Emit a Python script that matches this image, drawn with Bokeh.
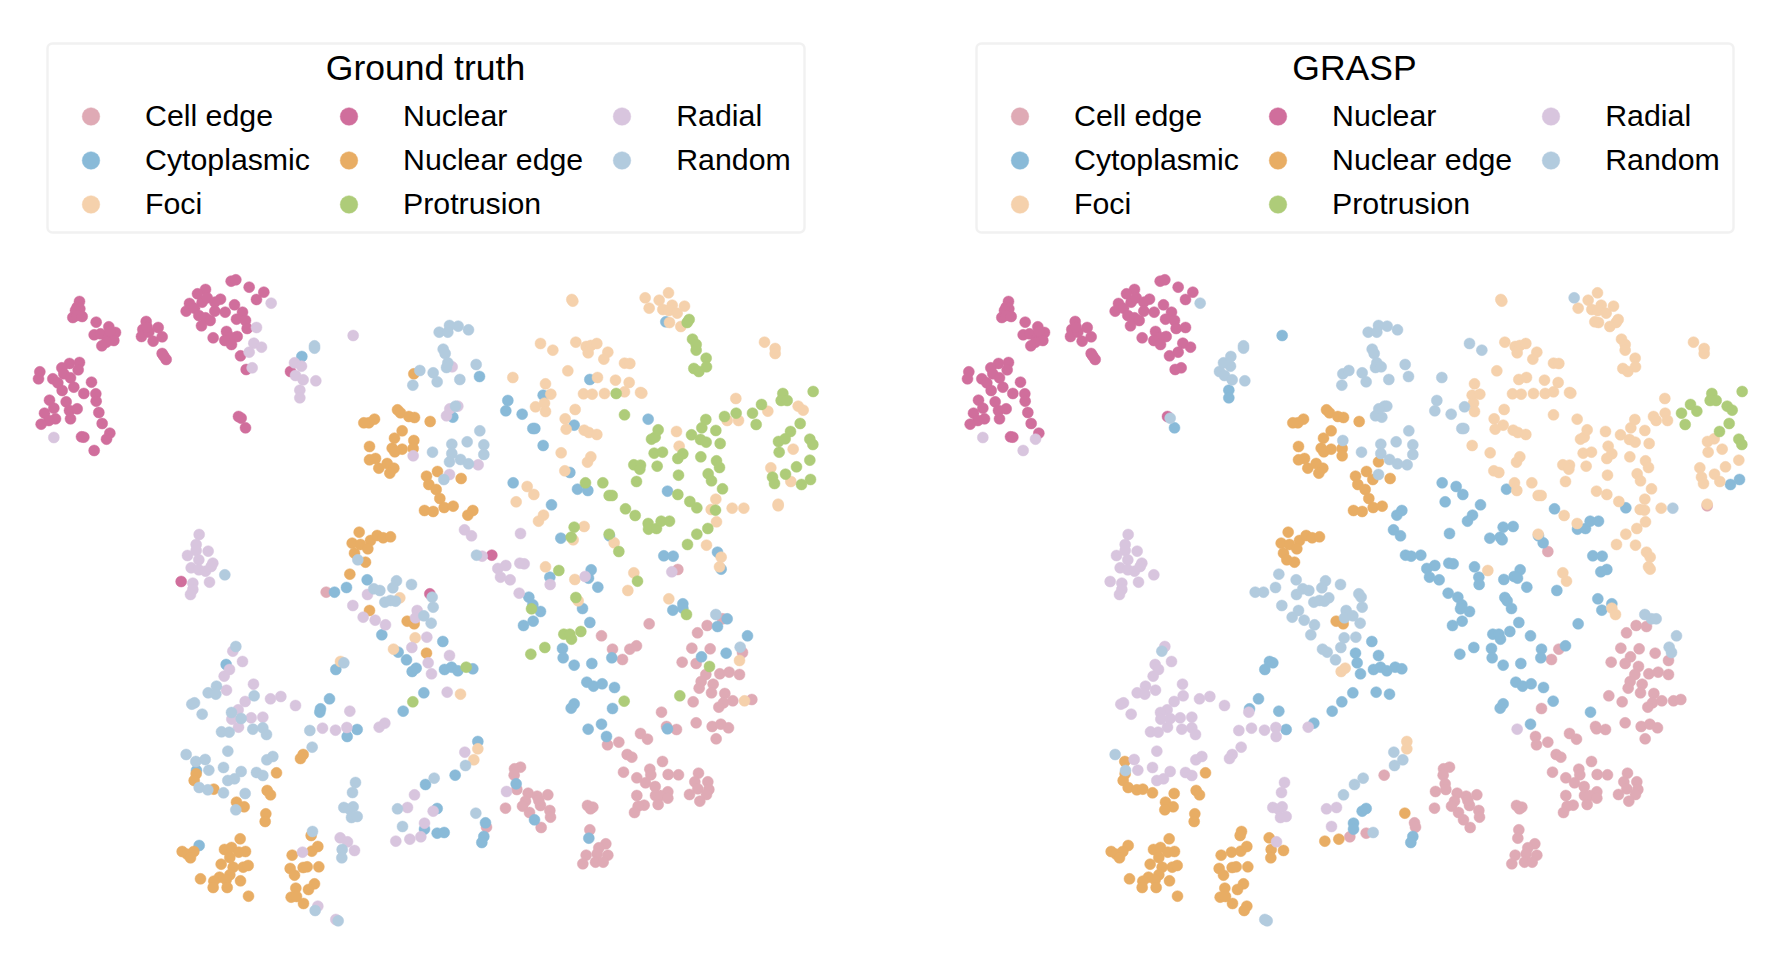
from bokeh.embed import file_html
from bokeh.resources import INLINE
from bokeh.plotting import figure
from bokeh.layouts import row
from bokeh.models import Legend, LegendItem, Range1d, BoxAnnotation, Label

CLASSES = ["Cell edge", "Cytoplasmic", "Foci", "Nuclear", "Nuclear edge", "Protrusion", "Radial", "Random"]
KEYS = ["CE", "CY", "FO", "NU", "NE", "PR", "RA", "RN"]
COLORS = ["#DFAAB5", "#89BAD8", "#F5D1AC", "#D06E9C", "#E8AD64", "#AECC79", "#D8C5DE", "#B2CBDE"]
TITLES = ["Ground truth", "GRASP"]

# Embedding coordinates, in thirds of a unit, per neighbourhood: (x, y, ground truth class, GRASP class)
origin_nw = (20, 260)
points_nw = [
(177,123,"NU","NU"),(170,140,"NU","NU"),(178,145,"NU","NU"),(165,150,"NU","NU"),(157,171,"NU","NU"),(170,165,"NU","NU"),(185,168,"NU","NU"),
(227,185,"NU","NU"),(221,223,"NU","NU"),(240,220,"NU","NU"),(265,199,"NU","NU"),(285,216,"NU","NU"),(270,222,"NU","NU"),(262,232,"NU","NU"),(280,240,"NU","NU"),(258,245,"NU","NU"),(244,256,"NU","NU"),(268,212,"NU","NU"),
(377,183,"NU","NU"),(367,207,"NU","NU"),(363,228,"NU","NU"),(385,215,"NU","NU"),(413,201,"NU","NU"),(425,229,"NU","NU"),(398,242,"NU","NU"),(380,200,"NU","NU"),(425,279,"NU","NU"),(437,297,"NU","NU"),(430,287,"NU","NU"),
(632,62,"NU","NU"),(646,58,"NU","NU"),(686,80,"NU","NU"),(730,95,"NU","NU"),(708,117,"NU","NU"),(752,128,"RA","RN"),
(555,87,"NU","NU"),(531,100,"NU","NU"),(545,125,"NU","NU"),(560,112,"NU","NU"),(600,116,"NU","NU"),(583,125,"NU","NU"),(507,129,"NU","NU"),(497,152,"NU","NU"),(522,143,"NU","NU"),(535,165,"NU","NU"),(555,172,"NU","NU"),(569,180,"NU","NU"),(543,196,"NU","NU"),(583,152,"NU","NU"),(614,155,"NU","NU"),(642,133,"NU","NU"),(666,155,"NU","NU"),(648,176,"NU","NU"),(675,180,"NU","NU"),(680,204,"NU","NU"),(708,201,"RA","NU"),
(578,232,"NU","NU"),(618,213,"NU","NU"),(650,228,"NU","NU"),(630,230,"NU","NU"),(613,240,"NU","NU"),(633,252,"NU","NU"),
(700,248,"RA","NU"),(723,260,"RA","NU"),(686,275,"RA","NU"),(660,286,"NU","NU"),(695,322,"RA","NU"),(677,327,"NU","NU"),
(177,306,"NU","NU"),(147,309,"NU","NU"),(124,322,"NU","NU"),(173,328,"NU","NU"),(58,334,"NU","NU"),(54,355,"NU","NU"),(130,340,"NU","NU"),(150,352,"NU","NU"),(97,355,"NU","NU"),(112,367,"NU","NU"),(160,380,"NU","NU"),(125,390,"NU","NU"),(213,365,"NU","NU"),(190,399,"NU","NU"),(226,400,"NU","NU"),(227,422,"NU","NU"),(87,419,"NU","NU"),(137,424,"NU","NU"),(100,443,"NU","NU"),(147,450,"NU","NU"),(170,445,"NU","NU"),(72,458,"NU","NU"),(105,475,"NU","NU"),(85,480,"NU","NU"),(150,475,"NU","NU"),(235,456,"NU","NU"),(245,489,"NU","NU"),(62,491,"NU","NU"),
(100,531,"RA","RA"),(183,529,"NU","NU"),(190,530,"NU","NU"),(268,518,"NU","NU"),(258,536,"NU","RA"),(221,570,"NU","RA"),
(654,468,"NU","NU"),(662,473,"NU","RN"),(675,502,"NU","CY"),
(810,333,"NU","RN"),(822,307,"RA","RN"),(843,317,"RA","RN"),(825,345,"RA","RN"),(848,358,"RA","RN"),(886,361,"RA","RN"),(838,389,"RA","CY"),(838,412,"RA","CY"),(844,288,"CY","RN"),(882,256,"RN","RN"),(882,263,"RN","RN"),(998,225,"RA","CY"),
(1180,340,"NE","RN"),(1198,330,"RN","RN"),(1177,374,"RN","RN"),
(1131,448,"NE","NE"),(1140,457,"NE","NE"),(1165,468,"NE","NE"),(1182,471,"NE","NE"),(1062,476,"NE","NE"),(1045,487,"NE","NE"),(1030,487,"NE","NE"),(1145,511,"NE","NE"),(1122,533,"NE","NE"),(1047,558,"NE","NE"),(1180,540,"NE","RN"),(1115,563,"NE","NE"),(1123,574,"NE","NE"),(1145,566,"NE","NE"),(1178,564,"NE","NE"),(1178,586,"RA","NE"),(1047,598,"NE","NE"),(1065,594,"NE","NE"),(1075,623,"NE","NE"),(1100,609,"NE","NE"),(1120,623,"NE","NE"),(1108,638,"NE","NE"),
(536,822,"RA","RA"),(1016,815,"NE","NE"),(1050,840,"NE","NE"),(1070,825,"NE","NE"),(1088,832,"NE","NE"),(1110,829,"NE","NE"),
]

origin_ne = (420, 260)
points_ne = [
(56,215,"RN","RN"),(87,195,"RN","RN"),(82,215,"RN","RN"),(113,197,"RN","RN"),(144,208,"RN","RN"),(68,266,"RN","RN"),(74,279,"RN","RN"),(82,307,"RN","RN"),(78,321,"RN","RN"),(95,319,"RA","RN"),(167,312,"RN","RN"),(177,348,"CY","RN"),(38,337,"RN","RN"),(50,364,"RN","RN"),(118,357,"RN","RN"),
(105,437,"RN","RN"),(112,437,"RA","RN"),(88,445,"RA","RN"),(78,466,"RA","RN"),(97,470,"CY","RN"),(29,483,"NE","NE"),
(178,511,"RN","RN"),(140,544,"RN","RN"),(94,551,"RN","RN"),(190,553,"RN","RN"),(36,575,"RN","RN"),(94,579,"RN","RN"),(190,582,"RN","RN"),(87,604,"RN","NE"),(120,597,"RN","RN"),(144,610,"RN","RN"),(173,613,"RA","RN"),(87,642,"RA","RN"),(70,657,"RN","NE"),
(454,117,"FO","FO"),(457,122,"FO","FO"),(674,112,"FO","RN"),(716,119,"FO","FO"),(744,97,"FO","FO"),(686,143,"FO","FO"),(755,134,"FO","FO"),(792,137,"FO","FO"),(727,147,"FO","FO"),(745,150,"FO","FO"),(770,158,"FO","FO"),(747,186,"FO","FO"),(736,184,"CY","FO"),(781,198,"FO","FO"),
(800,186,"PR","FO"),(806,177,"PR","FO"),(816,236,"PR","FO"),(827,252,"PR","FO"),(827,269,"PR","FO"),(857,293,"PR","FO"),(858,319,"PR","FO"),(820,324,"PR","FO"),(835,333,"PR","FO"),
(360,249,"FO","RN"),(397,269,"FO","RN"),(466,245,"FO","FO"),(497,258,"FO","FO"),(511,255,"FO","FO"),(529,249,"FO","FO"),(503,277,"FO","FO"),(562,275,"FO","FO"),(550,296,"FO","FO"),(612,308,"FO","FO"),(628,309,"FO","FO"),(1032,245,"FO","FO"),(1064,264,"FO","FO"),(1064,279,"FO","FO"),
(442,331,"FO","FO"),(277,351,"FO","RN"),(375,370,"FO","FO"),(368,404,"CY","FO"),(391,401,"FO","FO"),(508,357,"CY","FO"),(531,351,"FO","FO"),(585,359,"FO","FO"),(626,366,"FO","FO"),
(489,400,"FO","FO"),(515,401,"FO","FO"),(552,399,"FO","FO"),(587,399,"PR","FO"),(612,394,"FO","FO"),(660,396,"FO","FO"),(664,398,"FO","FO"),
(262,420,"CY","RN"),(256,451,"CY","RN"),(305,461,"CY","RN"),(345,439,"FO","RN"),(372,428,"FO","FO"),(375,453,"FO","FO"),(464,447,"FO","FO"),(612,463,"PR","FO"),(683,476,"CY","FO"),(434,475,"FO","FO"),(437,506,"FO","FO"),(461,494,"CY","FO"),(337,504,"CY","RN"),(343,504,"CY","RN"),(491,509,"FO","FO"),(505,516,"FO","FO"),(529,522,"FO","FO"),(368,555,"CY","FO"),(422,577,"FO","FO"),(511,589,"FO","FO"),(501,605,"FO","FO"),(433,631,"FO","FO"),(448,636,"CY","FO"),
(278,667,"CY","CY"),(320,678,"FO","CY"),(340,702,"FO","CY"),(287,724,"FO","CY"),(393,733,"CY","CY"),(369,764,"FO","CY"),(354,782,"FO","CY"),(300,819,"RA","CY"),(132,808,"RA","CY"),(153,826,"RA","CY"),
(51,633,"NE","NE"),(18,647,"NE","NE"),(25,672,"NE","NE"),(47,687,"NE","NE"),(58,714,"NE","NE"),(71,741,"NE","NE"),(98,737,"NE","NE"),(122,654,"NE","NE"),(12,750,"NE","NE"),(38,753,"NE","NE"),(157,750,"NE","CY"),(142,764,"NE","CY"),
(495,667,"PR","FO"),(547,667,"PR","FO"),(648,663,"PR","FO"),(471,686,"CY","CY"),(502,690,"CY","FO"),(566,705,"PR","FO"),(575,705,"PR","FO"),(640,613,"PR","FO"),(660,614,"PR","FO"),(658,626,"PR","FO"),(710,617,"PR","FO"),(774,644,"PR","FO"),
(693,536,"PR","FO"),(704,530,"PR","FO"),(713,508,"PR","FO"),(768,513,"FO","FO"),(776,557,"FO","FO"),(701,578,"PR","FO"),(726,575,"PR","FO"),(772,594,"PR","FO"),(787,580,"PR","FO"),(813,523,"PR","FO"),(840,537,"PR","FO"),(857,545,"PR","FO"),(886,510,"PR","FO"),(899,549,"PR","FO"),(841,589,"PR","FO"),(844,502,"PR","FO"),(856,477,"PR","FO"),(912,468,"PR","FO"),(920,480,"FO","FO"),(947,458,"PR","FO"),(954,480,"FO","FO"),(946,414,"FO","FO"),
(996,458,"PR","PR"),(1023,432,"PR","PR"),(1007,492,"PR","PR"),(1042,452,"FO","PR"),(1087,399,"PR","PR"),(1082,420,"PR","PR"),(1100,420,"PR","PR"),(1178,393,"PR","PR"),(1133,437,"FO","PR"),(1148,449,"FO","PR"),(1139,489,"PR","PR"),(1110,513,"PR","PR"),(1074,543,"PR","FO"),(1094,535,"PR","FO"),(1168,536,"PR","PR"),(1177,552,"PR","PR"),(1076,575,"PR","FO"),(1118,566,"FO","FO"),(1168,599,"PR","FO"),(1128,619,"PR","FO"),(1051,622,"FO","FO"),(1095,641,"PR","FO"),(1056,650,"PR","FO"),(1062,669,"PR","FO"),(1111,663,"FO","FO"),(1143,672,"PR","CY"),(1170,657,"PR","CY"),(1073,731,"FO","FO"),(1073,736,"FO","CE"),
(888,601,"PR","FO"),(897,621,"PR","FO"),(863,640,"PR","FO"),(873,661,"PR","FO"),(906,685,"PR","FO"),(741,692,"CY","FO"),(772,702,"PR","FO"),(808,723,"PR","FO"),(829,742,"PR","CY"),(886,716,"FO","FO"),(872,747,"FO","FO"),(885,749,"PR","FO"),(935,743,"FO","FO"),(970,743,"FO","RN"),(888,784,"FO","FO"),(862,804,"PR","FO"),(829,821,"PR","FO"),
(615,745,"PR","CY"),(644,765,"PR","FO"),(683,789,"PR","FO"),(684,806,"PR","CY"),(708,804,"PR","CY"),(722,782,"PR","CY"),(747,782,"PR","CY"),
(461,800,"PR","CY"),(491,798,"FO","CY"),(452,830,"PR","CY"),(458,838,"FO","CY"),(421,833,"CY","CY"),(566,821,"PR","FO"),(567,826,"CY","CY"),
]

origin_sw = (150, 540)
points_sw = [
(137,12,"RA","RA"),(137,30,"RA","RA"),(111,45,"RA","RA"),(173,32,"RA","RA"),(145,58,"RA","RA"),(187,68,"RA","RA"),(122,82,"RA","RA"),(145,88,"RA","RA"),(165,92,"RA","RA"),(182,78,"RA","RA"),(92,123,"NU","RA"),(127,128,"RA","RA"),(177,125,"RA","RA"),(127,147,"RA","RA"),(120,162,"RA","RA"),(223,103,"RN","RA"),
(605,8,"NE","NE"),(630,12,"NE","NE"),(652,25,"NE","NE"),(612,38,"NE","NE"),(645,65,"NE","NE"),(622,58,"RN","NE"),(598,101,"NE","RN"),
(650,118,"CY","RN"),(588,141,"CY","RN"),(527,155,"CE","RN"),(552,155,"CY","RN"),(670,145,"RN","RN"),(688,150,"RN","RN"),(651,162,"RA","RN"),(738,121,"RN","RN"),(727,142,"RN","RN"),(783,132,"RN","RN"),(748,172,"FO","RN"),(703,185,"RN","RN"),(720,180,"RN","RN"),(735,182,"RN","RN"),(838,160,"NU","RN"),(845,170,"RN","RN"),(848,200,"RN","RN"),
(607,195,"RA","RN"),(657,210,"NE","RN"),(638,230,"RA","RN"),(674,239,"RA","RN"),(705,253,"RA","RN"),(694,283,"CY","RN"),(800,210,"RA","RN"),(795,232,"RA","RN"),(820,226,"RN","RN"),(770,242,"NE","NE"),(791,250,"NE","NE"),(842,248,"RN","RN"),
(794,292,"FO","RN"),(829,290,"RA","RN"),(877,303,"CY","CY"),(784,321,"RA","RN"),(729,326,"FO","RN"),(743,335,"CY","RN"),(768,358,"CY","RN"),(828,338,"NE","CY"),(897,345,"RA","CY"),(833,367,"RA","CY"),(843,400,"RA","CY"),(785,393,"CY","FO"),(797,383,"CY","FO"),(882,387,"CY","CY"),(903,380,"CY","CY"),(922,391,"CY","CY"),
(820,457,"CY","CY"),(890,455,"RA","CY"),(930,461,"FO","CY"),(787,484,"PR","CY"),(758,512,"CY","CY"),(703,548,"RA","CY"),(686,560,"RA","RA"),(620,567,"CY","CY"),(598,512,"RA","CY"),(589,561,"RA","RA"),(590,588,"CY","RA"),(555,569,"RA","RA"),(516,563,"RA","RA"),(478,570,"RN","RA"),(485,620,"RN","RA"),(458,642,"NE","RA"),(450,654,"NE","RA"),
(537,475,"CY","CY"),(510,505,"CY","CY"),(508,515,"CY","RA"),(570,363,"FO","CY"),(580,367,"RN","CY"),(556,387,"CY","CY"),
(247,332,"RA","RN"),(256,318,"RN","RA"),(276,363,"RA","RA"),(227,372,"CY","RA"),(237,387,"RA","RA"),(221,407,"RA","RA"),(198,437,"RN","RA"),(173,457,"RN","RA"),(196,461,"RN","RA"),(228,449,"RA","RA"),(309,431,"RA","RA"),(311,466,"RN","RA"),(284,483,"RA","RA"),(360,475,"RA","RA"),(391,468,"RA","RA"),(435,495,"RA","RA"),(124,491,"RN","RA"),(132,487,"RN","RA"),(155,521,"RN","RA"),(263,508,"RA","RA"),(243,516,"RN","RA"),(244,536,"RA","RA"),(272,534,"RN","RA"),(302,532,"RA","RA"),(337,530,"RA","RA"),(264,560,"RA","RA"),(213,574,"RN","RA"),(236,575,"RN","RA"),(307,566,"RN","RA"),(337,562,"RN","RA"),(348,582,"RN","RA"),
(107,642,"RN","RN"),(136,663,"RN","NE"),(164,657,"RN","RA"),(138,690,"CY","RN"),(137,700,"NE","NE"),(131,720,"NE","NE"),(175,689,"RN","RA"),(232,632,"RN","RA"),(219,681,"RN","RA"),(272,693,"RN","RA"),(232,720,"RN","RA"),(252,715,"RN","RA"),(349,658,"RN","RA"),(367,648,"RN","RA"),(318,696,"RN","RA"),(337,705,"RN","RA"),(378,697,"NE","NE"),
(146,741,"RN","NE"),(172,748,"RN","NE"),(190,746,"NE","NE"),(219,757,"RN","NE"),(284,759,"RN","NE"),(350,750,"NE","NE"),(360,763,"NE","NE"),(258,785,"NE","NE"),(281,799,"NE","NE"),(256,808,"RN","NE"),(346,820,"NE","NE"),(344,843,"NE","NE"),
(146,915,"CY","NE"),(95,933,"NE","NE"),(110,941,"NE","NE"),(130,933,"NE","NE"),(120,952,"NE","NE"),(269,895,"NE","NE"),(222,927,"NE","NE"),(243,921,"NE","NE"),(265,935,"NE","NE"),(285,933,"NE","NE"),(238,951,"NE","NE"),(212,971,"NE","NE"),(248,980,"NE","NE"),(278,980,"NE","NE"),(293,975,"NE","NE"),(238,1003,"NE","NE"),(207,1010,"NE","NE"),(190,1022,"NE","NE"),(227,1018,"NE","NE"),(270,1021,"NE","NE"),(188,1041,"NE","NE"),(230,1041,"NE","NE"),(150,1015,"NE","NE"),(294,1067,"NE","NE"),
(486,873,"RN","NE"),(482,885,"NE","NE"),(425,944,"NE","NE"),(456,935,"RA","NE"),(484,932,"NE","NE"),(502,918,"NE","NE"),(505,979,"NE","NE"),(458,981,"NE","NE"),(470,979,"NE","NE"),(419,984,"NE","NE"),(432,1004,"NE","NE"),(492,1030,"NE","NE"),(474,1047,"NE","NE"),(436,1043,"NE","NE"),(422,1070,"NE","NE"),(438,1068,"NE","NE"),(459,1089,"NE","NE"),(502,1097,"RA","NE"),(494,1110,"RN","NE"),(556,1137,"RA","RN"),(563,1141,"RN","RN"),
(569,892,"RA","NE"),(591,904,"RA","RA"),(612,930,"RA","NE"),(575,927,"RN","NE"),(574,952,"RN","NE"),(615,726,"RN","RA"),(606,756,"RN","RA"),(580,801,"RN","RA"),(597,806,"RN","RA"),(608,799,"RN","RA"),(603,831,"RN","RA"),(620,828,"RN","RA"),
(851,713,"RN","RN"),(825,732,"CY","RN"),(792,763,"RA","RN"),(741,805,"RN","RA"),(771,801,"RA","RA"),(848,812,"RA","CY"),(860,804,"CY","CY"),(756,858,"RN","RA"),(822,848,"RA","CY"),(822,866,"CY","CY"),(860,878,"CY","CE"),(881,876,"CY","RN"),(736,902,"RA","NE"),(778,896,"RA","NE"),(811,889,"RA","CE"),(914,704,"CY","CE"),
]

origin_se = (460, 540)
points_se = [
(48,44,"RN","CY"),(65,47,"RA","CY"),(94,44,"NU","CY"),(136,75,"RA","CY"),(112,84,"RA","CY"),(120,110,"RA","CY"),(149,118,"RA","CY"),(178,68,"RA","CY"),(191,70,"RA","CY"),(255,79,"FO","CY"),(295,90,"PR","FO"),(268,110,"CY","CY"),(269,132,"RA","CY"),
(392,88,"CY","CY"),(374,108,"RA","CY"),(384,113,"CY","CY"),(343,117,"FO","CY"),(412,140,"CY","CY"),(520,97,"FO","FO"),(531,122,"PR","FO"),(502,150,"FO","CY"),(610,46,"CY","CY"),(638,47,"CY","CY"),(652,87,"CE","CY"),(634,94,"RA","CY"),
(738,14,"FO","FO"),(681,12,"PR","FO"),(771,35,"CY","FO"),(782,50,"FO","FO"),(777,79,"FO","FO"),(782,86,"CY","FO"),(461,7,"FO","CY"),(475,33,"PR","CE"),
(176,158,"RA","CY"),(205,170,"CY","CY"),(217,193,"CY","CY"),(213,205,"PR","CY"),(240,213,"CY","CY"),(218,242,"CY","CY"),(189,255,"CY","CY"),(346,171,"PR","CY"),(353,181,"FO","CY"),(366,204,"CY","CY"),
(625,175,"FO","CY"),(667,190,"CY","CY"),(667,203,"CY","FO"),(637,209,"CY","CY"),(678,222,"PR","FO"),(566,250,"CE","CY"),(388,246,"CY","CY"),(310,281,"PR","CY"),(328,281,"PR","CY"),(361,273,"PR","CY"),(333,296,"PR","CY"),(423,286,"CE","CY"),
(253,321,"PR","CY"),(211,341,"PR","CY"),(306,324,"CY","CY"),(308,352,"CY","CY"),(341,374,"CY","CY"),(394,369,"CY","CY"),(456,326,"CE","CY"),(454,352,"CY","CY"),(508,326,"CE","CE"),(528,316,"CE","CY"),(486,357,"CE","CE"),(17,380,"PR","CY"),(37,385,"CY","CY"),
(379,425,"CY","CY"),(399,437,"CY","CY"),(425,430,"CY","CY"),(462,441,"CY","CY"),(491,482,"PR","CY"),(456,504,"CY","CE"),(341,490,"CY","CY"),(332,503,"CY","CY"),(423,551,"CY","CY"),(383,566,"CY","RA"),(438,588,"CY","CE"),(441,613,"CE","CE"),(475,605,"CE","CE"),
(540,579,"CE","CE"),(561,596,"CE","CE"),(603,515,"CE","CY"),(618,558,"CE","CE"),(621,565,"CY","CE"),(648,567,"CE","CE"),
(766,222,"RN","RN"),(786,235,"CE","RN"),(800,235,"CY","RN"),(771,258,"CY","CE"),(740,255,"CE","CE"),(711,277,"CE","CE"),(861,286,"CY","RN"),(839,320,"RN","RN"),(846,336,"CE","RN"),(797,338,"CY","CE"),(837,360,"FO","CE"),
(694,323,"CE","CE"),(749,325,"CE","CE"),(723,349,"CY","CE"),(665,365,"CE","CE"),(707,369,"CE","CE"),(747,378,"PR","CE"),(736,402,"CE","CE"),(778,400,"CE","CE"),(806,395,"CE","CE"),(837,402,"CE","CE"),(722,423,"CE","CE"),(716,443,"CE","CE"),(758,431,"CE","CE"),(753,457,"CE","CE"),(793,459,"CE","CE"),(658,466,"PR","CE"),(698,484,"CE","CE"),(789,487,"CE","CE"),(775,500,"CE","CE"),(817,481,"CE","CE"),(852,481,"FO","CE"),(874,477,"CE","CE"),(707,547,"CE","CE"),(755,558,"CE","CE"),(781,551,"CE","CE"),(804,562,"CE","CE"),(767,595,"CE","CE"),
(606,663,"CE","CE"),(500,642,"CE","CE"),(514,650,"CE","CE"),(489,695,"CE","CE"),(568,686,"CE","CE"),(571,703,"CE","CE"),(529,712,"CE","CE"),(555,727,"CE","CE"),(584,738,"CE","CE"),(623,702,"CE","CE"),(654,703,"CE","CE"),(622,754,"CE","CE"),(585,765,"CE","CE"),(600,765,"CE","CE"),(622,773,"CE","CE"),(529,765,"CE","CE"),(593,792,"CE","CE"),(551,794,"CE","CE"),(533,797,"CE","CE"),(522,816,"CE","CE"),
(714,698,"CE","CE"),(703,724,"CE","CE"),(742,724,"CE","CE"),(712,745,"CE","CE"),(745,747,"CE","CE"),(687,762,"CE","CE"),(738,762,"CE","CE"),(718,782,"CE","CE"),
(162,685,"CE","CE"),(180,680,"CE","CE"),(161,704,"CE","CE"),(167,730,"CY","CE"),(169,747,"CE","CE"),(138,753,"RA","CE"),(135,803,"CE","CE"),
(203,758,"CE","CE"),(230,767,"CE","CE"),(262,763,"CE","CE"),(240,795,"CE","CE"),(235,780,"CE","CE"),(195,782,"CE","CE"),(186,797,"CE","CE"),(207,816,"CE","CE"),(268,810,"CE","CE"),(270,830,"CE","CE"),(242,861,"CE","CE"),(222,838,"CY","CE"),
(381,795,"CE","CE"),(397,800,"CE","CE"),(390,805,"CE","CE"),(388,868,"CE","CE"),(385,893,"CY","CE"),(436,910,"CE","CE"),(415,922,"CE","CE"),(377,944,"CE","CE"),(442,944,"CE","CE"),(410,940,"CE","CE"),(367,970,"CE","CE"),(405,965,"CE","CE"),(428,965,"CE","CE"),
(46,818,"RN","NE"),(75,847,"CY","CE"),(78,860,"CE","CE"),(70,888,"CY","CY"),(64,906,"CY","CY"),
(52,603,"CY","FO"),(52,625,"FO","FO"),(13,635,"RA","RN"),(40,658,"FO","RN"),(15,675,"RN","RN"),
]

REGIONS = [(origin_nw, points_nw), (origin_ne, points_ne), (origin_sw, points_sw), (origin_se, points_se)]

xs, ys, truth, grasp = [], [], [], []
for (ox, oy), pts in REGIONS:
    for px, py, t, g in pts:
        xs.append(ox + px / 3)
        ys.append(oy + py / 3)
        truth.append(t)
        grasp.append(g)

H = 952
WIDTHS = [929, 835]


def panel(labels, title, width):
    p = figure(width=width, height=H, output_backend="svg", toolbar_location=None,
               x_range=Range1d(0, width), y_range=Range1d(H, 0),
               min_border=0, outline_line_color=None, background_fill_color="white",
               border_fill_color="white")
    p.axis.visible = False
    p.grid.visible = False
    items = []
    for key, name, col in zip(KEYS, CLASSES, COLORS):
        idx = [i for i, l in enumerate(labels) if l == key]
        r = p.scatter([xs[i] for i in idx], [ys[i] for i in idx], size=11,
                      fill_color=col, line_color=col, line_width=0.5)
        items.append(LegendItem(label=name, renderers=[r]))
    p.add_layout(BoxAnnotation(left=47, right=804, top=43, bottom=232, fill_color="white",
                               fill_alpha=1, line_color="#CFCFCF", line_width=2.5,
                               border_radius=5, level="underlay"))
    legend = Legend(items=items, nrows=3, orientation="vertical", padding=0, margin=0, spacing=0,
                    glyph_width=77, glyph_height=44, label_standoff=16, label_height=44,
                    label_text_font="Liberation Sans", label_text_font_size="30.3px",
                    label_text_color="black", border_line_color=None, background_fill_alpha=0,
                    location=(52, 726))
    p.add_layout(legend)
    p.add_layout(Label(x=425, y=67, text=title, text_align="center", text_baseline="middle",
                       text_font="Liberation Sans", text_font_size="35.5px", text_color="black"))
    return p


p1 = panel(truth, TITLES[0], WIDTHS[0])
p2 = panel(grasp, TITLES[1], WIDTHS[1])
page = row(p1, p2)
open("out.html", "w").write(file_html(page, INLINE))
